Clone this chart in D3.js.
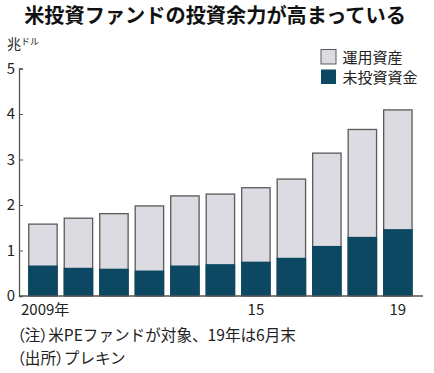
<!DOCTYPE html>
<html>
<head>
<meta charset="utf-8">
<script src="https://cdn.jsdelivr.net/npm/d3@7"></script>
<style>
  body { margin: 0; background: #fff; }
  text { font-family: "Noto Sans CJK JP", "Noto Sans", sans-serif; fill: #222; }
  .paren { font-feature-settings: "palt"; }
</style>
</head>
<body>
<div class="chart"></div>
<script>
// data (trillion dollars)
var years = ["2009", "2010", "2011", "2012", "2013", "2014", "2015", "2016", "2017", "2018", "2019"];
var totalAssets = [1.58, 1.71, 1.81, 1.98, 2.20, 2.24, 2.38, 2.57, 3.14, 3.66, 4.09];
var dryPowder = [0.67, 0.62, 0.60, 0.56, 0.67, 0.70, 0.755, 0.84, 1.10, 1.30, 1.47];
var yTicks = [0, 1, 2, 3, 4, 5];
var xTickLabels = {"2009": "2009年", "2015": "15", "2019": "19"};

var svgWidth = 434;
var svgHeight = 373;

var svg = d3.select(".chart")
  .append("svg")
  .attr("width", svgWidth)
  .attr("height", svgHeight);

var x = d3.scaleBand()
  .domain(years)
  .range([25.2, 415.6])
  .paddingInner(0.2)
  .paddingOuter(0.1);

var y = d3.scaleLinear()
  .domain([0, 5])
  .range([296, 68.5]);

// title
svg.append("text")
  .attr("x", 215)
  .attr("y", 23)
  .attr("text-anchor", "middle")
  .attr("font-size", 20.2)
  .attr("font-weight", "bold")
  .style("fill", "#111")
  .text("米投資ファンドの投資余力が高まっている");

// unit label
var unit = svg.append("text")
  .attr("x", 7)
  .attr("y", 49)
  .attr("font-size", 14);
unit.append("tspan").text("兆");
unit.append("tspan").attr("font-size", 9).attr("dy", -4).text("ドル");

// y axis
var yAxis = svg.append("g")
  .attr("transform", "translate(19,0)")
  .call(d3.axisRight(y).tickValues(yTicks).tickSize(4).tickFormat(d3.format("d")));
yAxis.select(".domain").attr("stroke", "#555").attr("stroke-width", 1.3);
yAxis.selectAll(".tick line").attr("stroke", "#555");
yAxis.selectAll(".tick text")
  .attr("x", -4)
  .attr("text-anchor", "end")
  .attr("font-size", 15)
  .style("fill", "#222");

// bars: whole stack in gray, dry powder on the bottom
svg.append("g").selectAll("rect")
  .data(years)
  .enter()
  .append("rect")
  .attr("x", d => x(d))
  .attr("width", x.bandwidth())
  .attr("y", (d, i) => y(totalAssets[i]))
  .attr("height", (d, i) => y(0) - y(totalAssets[i]))
  .attr("fill", "#dcdbe1")
  .attr("stroke", "#5a5a5a")
  .attr("stroke-width", 1.3);

svg.append("g").selectAll("rect")
  .data(years)
  .enter()
  .append("rect")
  .attr("x", d => x(d) - 0.6)
  .attr("width", x.bandwidth() + 1.2)
  .attr("y", (d, i) => y(dryPowder[i]))
  .attr("height", (d, i) => y(0) - y(dryPowder[i]))
  .attr("fill", "#0c4862");

// baseline
svg.append("line")
  .attr("x1", 19)
  .attr("x2", 423)
  .attr("y1", y(0))
  .attr("y2", y(0))
  .attr("stroke", "#555")
  .attr("stroke-width", 1.3);

// x labels
svg.append("g").selectAll("text")
  .data(years.filter(d => xTickLabels[d]))
  .enter()
  .append("text")
  .attr("x", d => d === "2009" ? 21 : x(d) + x.bandwidth() / 2)
  .attr("y", 315)
  .attr("text-anchor", d => d === "2009" ? "start" : "middle")
  .attr("font-size", 15)
  .text(d => xTickLabels[d]);

// legend
var legendItems = [
  {label: "運用資産", fill: "#dcdbe1", stroke: "#5a5a5a"},
  {label: "未投資資金", fill: "#0c4862", stroke: "none"}
];
var legend = svg.append("g").selectAll("g")
  .data(legendItems)
  .enter()
  .append("g")
  .attr("transform", (d, i) => `translate(321, ${49.5 + i * 20})`);
legend.append("rect")
  .attr("width", 15)
  .attr("height", 14.5)
  .attr("fill", d => d.fill)
  .attr("stroke", d => d.stroke)
  .attr("stroke-width", 1);
legend.append("text")
  .attr("x", 21.5)
  .attr("y", 13)
  .attr("font-size", 15)
  .text(d => d.label);

// notes
var note1 = svg.append("text")
  .attr("x", 17)
  .attr("y", 341)
  .attr("font-size", 15.6);
note1.append("tspan").attr("class", "paren").text("（注）");
note1.append("tspan").text("米PEファンドが対象、19年は6月末");

var note2 = svg.append("text")
  .attr("x", 17)
  .attr("y", 364)
  .attr("font-size", 15.6);
note2.append("tspan").attr("class", "paren").text("（出所）");
note2.append("tspan").text("プレキン");
</script>
</body>
</html>
